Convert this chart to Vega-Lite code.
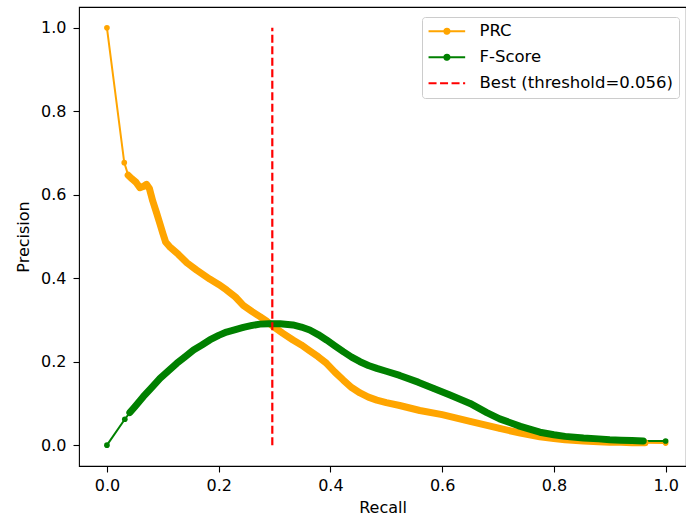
{
  "$schema": "https://vega.github.io/schema/vega-lite/v6.json",
  "autosize": {"type": "none"},
  "padding": {"left": 79, "top": 7, "right": 0, "bottom": 53},
  "width": 607,
  "height": 459,
  "config": {
    "font": "DejaVu Sans",
    "view": {"stroke": "#000000", "strokeWidth": 1.1},
    "axis": {"grid": false, "domain": false, "tickColor": "#000000", "tickSize": 6, "tickWidth": 1.1,
      "labelFont": "DejaVu Sans", "labelFontSize": 16, "labelColor": "#000000",
      "titleFont": "DejaVu Sans", "titleFontSize": 16, "titleFontWeight": "normal", "titleColor": "#000000"}
  },
  "datasets": {
    "curves": [
      {"series": "PRC", "recall": 0.0, "precision": 1.0},
      {"series": "PRC", "recall": 0.031, "precision": 0.677},
      {"series": "PRC", "recall": 0.038, "precision": 0.647},
      {"series": "PRC", "recall": 0.045, "precision": 0.638},
      {"series": "PRC", "recall": 0.052, "precision": 0.63},
      {"series": "PRC", "recall": 0.059, "precision": 0.617},
      {"series": "PRC", "recall": 0.065, "precision": 0.62},
      {"series": "PRC", "recall": 0.071, "precision": 0.625},
      {"series": "PRC", "recall": 0.076, "precision": 0.615},
      {"series": "PRC", "recall": 0.082, "precision": 0.585},
      {"series": "PRC", "recall": 0.089, "precision": 0.556},
      {"series": "PRC", "recall": 0.095, "precision": 0.53},
      {"series": "PRC", "recall": 0.1, "precision": 0.508},
      {"series": "PRC", "recall": 0.105, "precision": 0.487},
      {"series": "PRC", "recall": 0.112, "precision": 0.476},
      {"series": "PRC", "recall": 0.128, "precision": 0.457},
      {"series": "PRC", "recall": 0.143, "precision": 0.437},
      {"series": "PRC", "recall": 0.16, "precision": 0.42},
      {"series": "PRC", "recall": 0.184, "precision": 0.398},
      {"series": "PRC", "recall": 0.2, "precision": 0.385},
      {"series": "PRC", "recall": 0.214, "precision": 0.372},
      {"series": "PRC", "recall": 0.23, "precision": 0.355},
      {"series": "PRC", "recall": 0.244, "precision": 0.335},
      {"series": "PRC", "recall": 0.26, "precision": 0.32},
      {"series": "PRC", "recall": 0.274, "precision": 0.308},
      {"series": "PRC", "recall": 0.286, "precision": 0.297},
      {"series": "PRC", "recall": 0.298, "precision": 0.284},
      {"series": "PRC", "recall": 0.315, "precision": 0.268},
      {"series": "PRC", "recall": 0.333, "precision": 0.252},
      {"series": "PRC", "recall": 0.348, "precision": 0.24},
      {"series": "PRC", "recall": 0.363, "precision": 0.226},
      {"series": "PRC", "recall": 0.378, "precision": 0.212},
      {"series": "PRC", "recall": 0.393, "precision": 0.196},
      {"series": "PRC", "recall": 0.408, "precision": 0.175},
      {"series": "PRC", "recall": 0.423, "precision": 0.156},
      {"series": "PRC", "recall": 0.438, "precision": 0.138},
      {"series": "PRC", "recall": 0.453, "precision": 0.125},
      {"series": "PRC", "recall": 0.468, "precision": 0.115},
      {"series": "PRC", "recall": 0.483, "precision": 0.108},
      {"series": "PRC", "recall": 0.5, "precision": 0.102},
      {"series": "PRC", "recall": 0.524, "precision": 0.095},
      {"series": "PRC", "recall": 0.56, "precision": 0.083},
      {"series": "PRC", "recall": 0.6, "precision": 0.073},
      {"series": "PRC", "recall": 0.65, "precision": 0.057},
      {"series": "PRC", "recall": 0.703, "precision": 0.04},
      {"series": "PRC", "recall": 0.74, "precision": 0.029},
      {"series": "PRC", "recall": 0.775, "precision": 0.02},
      {"series": "PRC", "recall": 0.8, "precision": 0.016},
      {"series": "PRC", "recall": 0.82, "precision": 0.013},
      {"series": "PRC", "recall": 0.853, "precision": 0.01},
      {"series": "PRC", "recall": 0.88, "precision": 0.008},
      {"series": "PRC", "recall": 0.9, "precision": 0.007},
      {"series": "PRC", "recall": 0.92, "precision": 0.007},
      {"series": "PRC", "recall": 0.94, "precision": 0.006},
      {"series": "PRC", "recall": 0.963, "precision": 0.006},
      {"series": "PRC", "recall": 1.0, "precision": 0.005},
      {"series": "F-Score", "recall": 0.0, "precision": 0.0},
      {"series": "F-Score", "recall": 0.032, "precision": 0.062},
      {"series": "F-Score", "recall": 0.041, "precision": 0.078},
      {"series": "F-Score", "recall": 0.05, "precision": 0.092},
      {"series": "F-Score", "recall": 0.065, "precision": 0.116},
      {"series": "F-Score", "recall": 0.08, "precision": 0.138},
      {"series": "F-Score", "recall": 0.095, "precision": 0.16},
      {"series": "F-Score", "recall": 0.11, "precision": 0.178},
      {"series": "F-Score", "recall": 0.125, "precision": 0.196},
      {"series": "F-Score", "recall": 0.14, "precision": 0.212},
      {"series": "F-Score", "recall": 0.155, "precision": 0.228},
      {"series": "F-Score", "recall": 0.17, "precision": 0.24},
      {"series": "F-Score", "recall": 0.184, "precision": 0.252},
      {"series": "F-Score", "recall": 0.2, "precision": 0.263},
      {"series": "F-Score", "recall": 0.214, "precision": 0.271},
      {"series": "F-Score", "recall": 0.23, "precision": 0.277},
      {"series": "F-Score", "recall": 0.244, "precision": 0.282},
      {"series": "F-Score", "recall": 0.26, "precision": 0.287},
      {"series": "F-Score", "recall": 0.274, "precision": 0.29},
      {"series": "F-Score", "recall": 0.29, "precision": 0.291},
      {"series": "F-Score", "recall": 0.31, "precision": 0.291},
      {"series": "F-Score", "recall": 0.333, "precision": 0.288},
      {"series": "F-Score", "recall": 0.348, "precision": 0.283},
      {"series": "F-Score", "recall": 0.363, "precision": 0.276},
      {"series": "F-Score", "recall": 0.378, "precision": 0.265},
      {"series": "F-Score", "recall": 0.393, "precision": 0.252},
      {"series": "F-Score", "recall": 0.408, "precision": 0.238},
      {"series": "F-Score", "recall": 0.423, "precision": 0.224},
      {"series": "F-Score", "recall": 0.438, "precision": 0.211},
      {"series": "F-Score", "recall": 0.453, "precision": 0.2},
      {"series": "F-Score", "recall": 0.468, "precision": 0.191},
      {"series": "F-Score", "recall": 0.483, "precision": 0.184},
      {"series": "F-Score", "recall": 0.5, "precision": 0.177},
      {"series": "F-Score", "recall": 0.524, "precision": 0.167},
      {"series": "F-Score", "recall": 0.557, "precision": 0.151},
      {"series": "F-Score", "recall": 0.585, "precision": 0.136},
      {"series": "F-Score", "recall": 0.614, "precision": 0.12},
      {"series": "F-Score", "recall": 0.65, "precision": 0.1},
      {"series": "F-Score", "recall": 0.68, "precision": 0.078},
      {"series": "F-Score", "recall": 0.703, "precision": 0.063},
      {"series": "F-Score", "recall": 0.74, "precision": 0.045},
      {"series": "F-Score", "recall": 0.775, "precision": 0.031},
      {"series": "F-Score", "recall": 0.8, "precision": 0.025},
      {"series": "F-Score", "recall": 0.82, "precision": 0.021},
      {"series": "F-Score", "recall": 0.853, "precision": 0.017},
      {"series": "F-Score", "recall": 0.88, "precision": 0.015},
      {"series": "F-Score", "recall": 0.9, "precision": 0.013},
      {"series": "F-Score", "recall": 0.92, "precision": 0.012},
      {"series": "F-Score", "recall": 0.94, "precision": 0.011},
      {"series": "F-Score", "recall": 0.96, "precision": 0.01},
      {"series": "F-Score", "recall": 1.0, "precision": 0.01}
    ],
    "best": [
      {"series": "Best (threshold=0.056)", "recall": 0.296, "precision": 0.0, "top": 1.0}
    ]
  },
  "encoding": {
    "x": {"field": "recall", "type": "quantitative",
      "scale": {"domain": [-0.05, 1.0365], "nice": false, "zero": false},
      "axis": {"title": "Recall", "values": [0, 0.2, 0.4, 0.6, 0.8, 1.0], "format": ".1f", "labelPadding": 5, "titlePadding": 6}},
    "y": {"field": "precision", "type": "quantitative",
      "scale": {"domain": [-0.05, 1.05], "nice": false, "zero": false},
      "axis": {"title": "Precision", "values": [0, 0.2, 0.4, 0.6, 0.8, 1.0], "format": ".1f", "labelPadding": 7, "titlePadding": 9}},
    "color": {"field": "series", "type": "nominal",
      "scale": {"domain": ["PRC", "F-Score", "Best (threshold=0.056)"], "range": ["#ffa500", "#008000", "#ff0000"]},
      "legend": {
        "title": null, "orient": "none", "legendX": 343, "legendY": 10,
        "padding": 6, "fillColor": "rgba(255,255,255,0.8)", "strokeColor": "#cccccc", "cornerRadius": 3,
        "labelFont": "DejaVu Sans", "labelFontSize": 16.5, "labelColor": "#000000", "labelLimit": 400,
        "symbolType": "stroke", "symbolSize": 196, "symbolStrokeWidth": 2, "labelOffset": 35, "rowPadding": 9,
        "encode": {"symbols": {"update": {
          "shape": [{"test": "datum.value === 'Best (threshold=0.056)'", "value": "M-1.1,0H4.13"},
                    {"value": "M-1.1,0H4.13M1.157,0A0.37,0.37,0,1,1,1.897,0A0.37,0.37,0,1,1,1.157,0Z"}],
          "fill": [{"test": "datum.value === 'Best (threshold=0.056)'", "value": "transparent"},
                   {"scale": "color", "field": "value"}],
          "stroke": {"scale": "color", "field": "value"},
          "strokeDash": [{"test": "datum.value === 'Best (threshold=0.056)'", "value": [8, 3.5]},
                         {"value": [1, 0]}],
          "strokeWidth": {"value": 2},
          "opacity": {"value": 1}
        }}}
      }}
  },
  "layer": [
    {
      "data": {"name": "curves"},
      "mark": {"type": "line", "strokeWidth": 2, "point": {"filled": true, "size": 32}}
    },
    {
      "data": {"name": "curves"},
      "transform": [{"filter": "datum.recall >= 0.036 && datum.recall <= 0.97"}],
      "mark": {"type": "line", "strokeWidth": 7, "strokeCap": "round", "strokeJoin": "round"}
    },
    {
      "data": {"name": "best"},
      "mark": {"type": "rule", "strokeWidth": 2.2, "strokeDash": [8, 3.5]},
      "encoding": {"y2": {"field": "top"}}
    }
  ]
}
